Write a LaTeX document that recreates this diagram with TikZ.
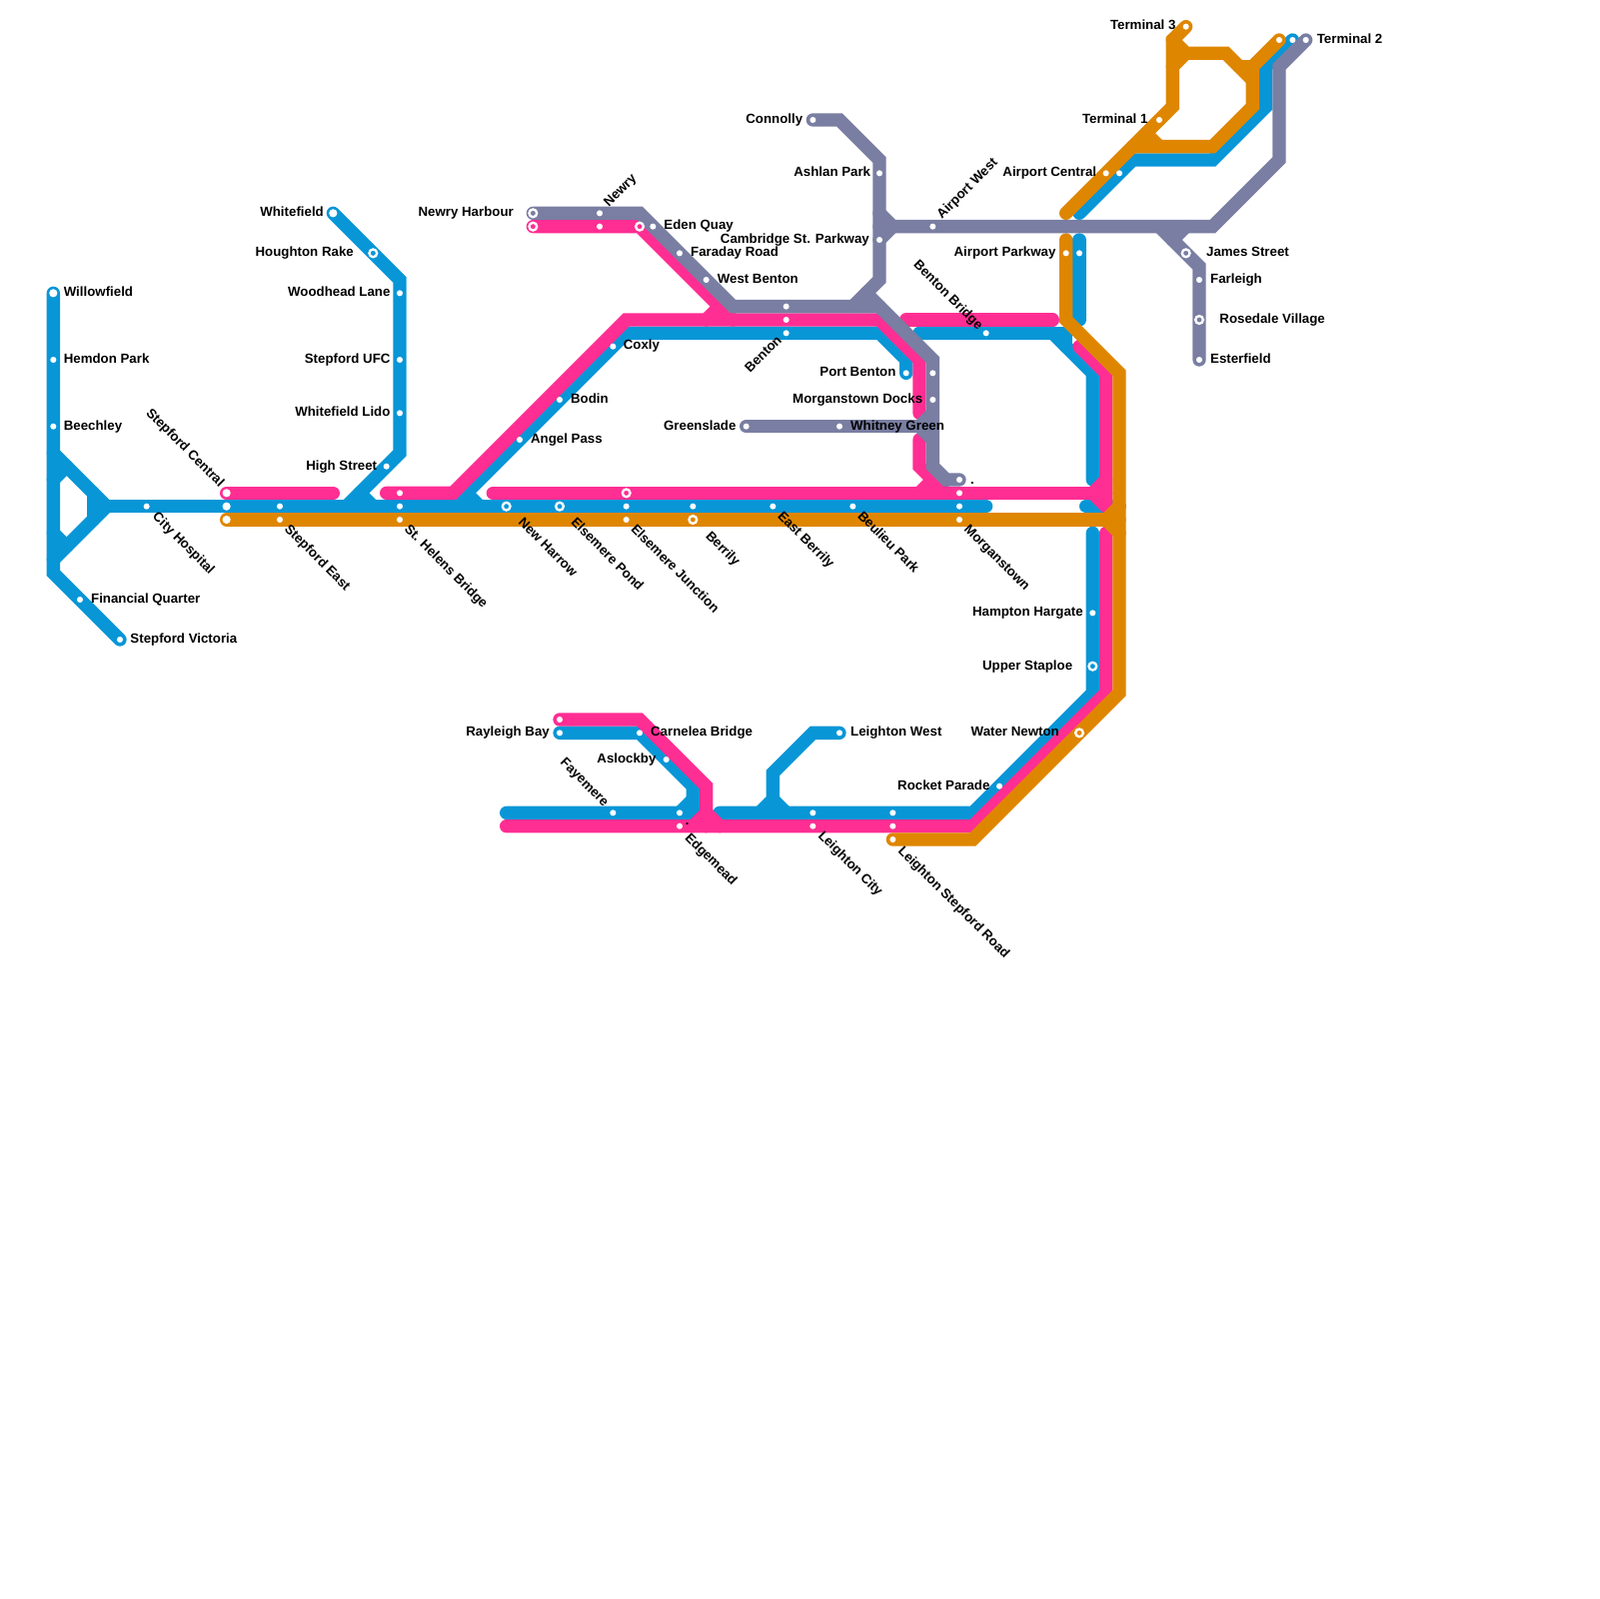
\documentclass[tikz,border=0pt]{standalone}
\usepackage{xcolor}
\usepackage{fontspec}
\setmainfont{Liberation Sans}
\definecolor{metroblue}{HTML}{0896D7}
\definecolor{metropink}{HTML}{FF2E93}
\definecolor{metroorange}{HTML}{DF8600}
\definecolor{metrogrey}{HTML}{797EA2}
\tikzset{
    route/.style={line width=2mm,line cap=round,line join=miter,#1},
    stn/.style={circle,fill=white,inner sep=0pt,minimum size=2.6pt},
    bigstn/.style={circle,fill=white,inner sep=0pt,minimum size=3.5pt},
    ringstn/.style={circle,draw=white,fill=#1,line width=1pt,inner sep=0pt,minimum size=3.3pt},
    lbl/.style={inner sep=0pt,font=\bfseries\fontsize{5.67}{6.8}\selectfont,text=black},
    lblr/.style={lbl,anchor=base west},
    lbll/.style={lbl,xshift=.4pt,anchor=base east},
    lbldown/.style={lbl,xshift=.5pt,anchor=base west,rotate=-45},
    lblfall/.style={lbl,xshift=.4pt,anchor=base east,rotate=-45},
    lblup/.style={lbl,xshift=.4pt,anchor=base west,rotate=45},
}
\begin{document}
\begin{tikzpicture}[x=2mm,y=-2mm]
    \useasboundingbox (0,0) rectangle (120,120);

    \draw[route=metroblue] (4,22) -- (4,43) -- (9,48);
    \draw[route=metroblue] (4,34) -- (8,38);
    \draw[route=metroblue] (4,42) -- (8,38);
    \draw[route=metroblue] (4,36) -- (5,35);
    \draw[route=metroblue] (4,40) -- (5,41);
    \draw[route=metroblue] (7,37) -- (7,39);
    \draw[route=metroblue] (8,38) -- (74,38);
    \draw[route=metroblue] (25,16) -- (30,21) -- (30,34) -- (26,38);
    \draw[route=metroblue] (27,37) -- (28,38);
    \draw[route=metroblue] (34,38) -- (47,25) -- (66,25) -- (68,27) -- (68,28);
    \draw[route=metroblue] (35,37) -- (36,38);
    \draw[route=metroblue] (69,25) -- (79,25) -- (82,28) -- (82,36);
    \draw[route=metroblue] (79,25) -- (80,25) -- (80,26);
    \draw[route=metroblue] (81.5,38) -- (84,38);
    \draw[route=metroblue] (82,40) -- (82,52) -- (73,61) -- (54,61);
    \draw[route=metroblue] (38,61) -- (52,61) -- (52,59) -- (48,55) -- (42,55);
    \draw[route=metroblue] (52,60) -- (51,61);
    \draw[route=metroblue] (63,55) -- (61,55) -- (58,58) -- (58,60) -- (57,61);
    \draw[route=metroblue] (58,60) -- (59,61);
    \draw[route=metroblue] (81,18) -- (81,24);
    \draw[route=metroblue] (81,16) -- (85,12) -- (91,12) -- (95,8) -- (95,5) -- (97,3);

    \draw[route=metropink] (17,37) -- (25,37);
    \draw[route=metropink] (29,37) -- (34,37) -- (47,24) -- (66,24) -- (69,27) -- (69,31);
    \draw[route=metropink] (40,17) -- (48,17) -- (55,24);
    \draw[route=metropink] (53,24) -- (54,23);
    \draw[route=metropink] (68,24) -- (79,24);
    \draw[route=metropink] (69,33) -- (69,35) -- (71,37);
    \draw[route=metropink] (69,37) -- (70,36);
    \draw[route=metropink] (37,37) -- (83,37);
    \draw[route=metropink] (81,26) -- (83,28) -- (83,38);
    \draw[route=metropink] (83,36) -- (82,37);
    \draw[route=metropink] (82,37) -- (83,38);
    \draw[route=metropink] (83,40) -- (83,52) -- (73,62) -- (38,62);
    \draw[route=metropink] (42,54) -- (48,54) -- (53,59) -- (53,62);
    \draw[route=metropink] (52,62) -- (53,61) -- (54,62);

    \draw[route=metroorange] (17,39) -- (84,39);
    \draw[route=metroorange] (80,18) -- (80,24) -- (84,28) -- (84,52) -- (73,63) -- (67,63);
    \draw[route=metroorange] (83,39) -- (84,38);
    \draw[route=metroorange] (83,39) -- (84,40);
    \draw[route=metroorange] (80,16) -- (88,8) -- (88,3) -- (89,2);
    \draw[route=metroorange] (88,3) -- (89,4) -- (92,4) -- (94,6);
    \draw[route=metroorange] (88,5) -- (89,4);
    \draw[route=metroorange] (86,10) -- (87,11);
    \draw[route=metroorange] (85,11) -- (91,11) -- (94,8) -- (94,5) -- (96,3);
    \draw[route=metroorange] (93,5) -- (94,5);

    \draw[route=metrogrey] (40,16) -- (48,16) -- (55,23) -- (66,23);
    \draw[route=metrogrey] (64,23) -- (66,21) -- (66,12) -- (63,9) -- (61,9);
    \draw[route=metrogrey] (65,22) -- (70,27) -- (70,35) -- (71,36) -- (72,36);
    \draw[route=metrogrey] (56,32) -- (70,32);
    \draw[route=metrogrey] (69,32) -- (70,31);
    \draw[route=metrogrey] (69,32) -- (70,33);
    \draw[route=metrogrey] (66,17) -- (91,17) -- (96,12) -- (96,5) -- (98,3);
    \draw[route=metrogrey] (66,16) -- (67,17) -- (66,18);
    \draw[route=metrogrey] (87,17) -- (90,20) -- (90,27);
    \draw[route=metrogrey] (88,18) -- (89,17);

    \foreach \nm/\x/\y in {hemdon/4/27,beechley/4/32,financial/6/45,victoria/9/48,
        hospital/11/38,eastb/21/38,easto/21/39,highst/29/35,lido/30/31,ufc/30/27,woodhead/30/22,
        helensp/30/37,helensb/30/38,helenso/30/39,junctb/47/38,juncto/47/39,berrilyb/52/38,
        eastberrily/58/38,beulieu/64/38,morganp/72/37,morganb/72/38,morgano/72/39,morgang/72/36,
        coxly/46/26,bodin/42/30,angel/39/33,newryg/45/16,newryp/45/17,eden/49/17,faraday/51/19,
        westbenton/53/21,bentong/59/23,bentonp/59/24,bentonb/59/25,portbenton/68/28,
        docksa/70/28,docks/70/30,greenslade/56/32,whitney/63/32,ashlan/66/13,parkway/66/18,
        connolly/61/9,airwest/70/17,bridge/74/25,airporto/80/19,airportb/81/19,centralo/83/13,
        centralb/84/13,termone/87/9,termthree/89/2,termo/96/3,termb/97/3,termtwo/98/3,
        farleigh/90/21,esterfield/90/27,hampton/82/46,rocket/75/59,rayleighp/42/54,rayleigh/42/55,
        carnelea/48/55,aslockby/50/57,fayemere/46/61,edgemeadb/51/61,edgemeadp/51/62,
        leightonw/63/55,cityb/61/61,cityp/61/62,roadb/67/61,roadp/67/62,roado/67/63}
        \node[stn] (\nm) at (\x,\y) {};

    \foreach \nm/\x/\y in {willowfield/4/22,whitefield/25/16,centralp/17/37,centralbl/17/38,centralor/17/39}
        \node[bigstn] (\nm) at (\x,\y) {};

    \node[ringstn=metroblue] (houghton) at (28,19) {};
    \node[ringstn=metroblue] (newharrow) at (38,38) {};
    \node[ringstn=metroblue] (pond) at (42,38) {};
    \node[ringstn=metroblue] (staploe) at (82,50) {};
    \node[ringstn=metrogrey] (harbourg) at (40,16) {};
    \node[ringstn=metropink] (harbourp) at (40,17) {};
    \node[ringstn=metropink] (quay) at (48,17) {};
    \node[ringstn=metropink] (junctp) at (47,37) {};
    \node[ringstn=metroorange] (berrilyo) at (52,39) {};
    \node[ringstn=metroorange] (waternewton) at (81,55) {};
    \node[ringstn=metrogrey] (james) at (89,19) {};
    \node[ringstn=metrogrey] (rosedale) at (90,24) {};

    \foreach \nm/\x/\y/\txt in {a/4.75/22.25/Willowfield,b/4.75/27.25/Hemdon Park,c/4.75/32.25/Beechley,
        d/6.8/45.25/Financial Quarter,e/9.75/48.25/Stepford Victoria,f/46.75/26.25/Coxly,g/42.8/30.25/Bodin,
        h/39.8/33.25/Angel Pass,i/49.8/17.25/Eden Quay,j/51.8/19.25/Faraday Road,k/53.8/21.25/West Benton,
        l/63.8/32.25/Whitney Green,m/98.8/3.25/Terminal 2,n/90.5/19.25/James Street,o/90.8/21.25/Farleigh,
        p/91.5/24.25/Rosedale Village,q/90.8/27.25/Esterfield,r/63.8/55.25/Leighton West,s/48.8/55.25/Carnelea Bridge}
        \node[lblr] (lbl\nm) at (\x,\y) {\txt};

    \foreach \nm/\x/\y/\txt in {a/24.25/16.25/Whitefield,b/26.5/19.25/Houghton Rake,c/29.25/22.25/Woodhead Lane,
        d/29.25/27.25/Stepford UFC,e/29.25/31.25/Whitefield Lido,f/28.25/35.25/High Street,g/38.5/16.25/Newry Harbour,
        h/65.2/18.25/Cambridge St. Parkway,i/67.2/28.25/Port Benton,j/69.2/30.25/Morganstown Docks,
        k/55.2/32.25/Greenslade,l/65.3/13.25/Ashlan Park,m/60.2/9.25/Connolly,n/79.2/19.25/Airport Parkway,
        o/82.25/13.25/Airport Central,p/86.1/9.25/Terminal 1,q/88.2/2.25/Terminal 3,r/81.25/46.25/Hampton Hargate,
        s/80.45/50.25/Upper Staploe,t/79.45/55.25/Water Newton,u/74.25/59.25/Rocket Parade,v/41.2/55.25/Rayleigh Bay,
        w/49.2/57.25/Aslockby}
        \node[lbll] (lbx\nm) at (\x,\y) {\txt};

    \foreach \nm/\x/\y/\txt in {a/11.3/38.8/City Hospital,b/21.2/39.75/Stepford East,c/30.2/39.75/St. Helens Bridge,
        d/38.75/39.25/New Harrow,e/42.7/39.25/Elsemere Pond,f/47.2/39.75/Elsemere Junction,g/52.8/40.25/Berrily,
        h/58.2/38.75/East Berrily,i/64.2/38.75/Beulieu Park,j/72.2/39.75/Morganstown,k/68.4/19.9/Benton Bridge,
        l/67.25/63.9/Leighton Stepford Road,m/61.25/62.75/Leighton City,n/51.25/62.9/Edgemead}
        \node[lbldown] (lbd\nm) at (\x,\y) {\txt};

    \node[lblfall] (lblcentral) at (16.4,36.6) {Stepford Central};
    \node[lblfall] (lblfayemere) at (45.25,60.6) {Fayemere};
    \node[lblup] (lblairwest) at (70.6,16.5) {Airport West};
    \node[lblup] (lblnewry) at (45.6,15.6) {Newry};
    \node[lblup] (lblbenton) at (56.2,28.05) {Benton};
    \node[lblr] (lbldotone) at (51.4,61.9) {.};
    \node[lblr] (lbldottwo) at (72.8,36.3) {.};
\end{tikzpicture}
\end{document}
